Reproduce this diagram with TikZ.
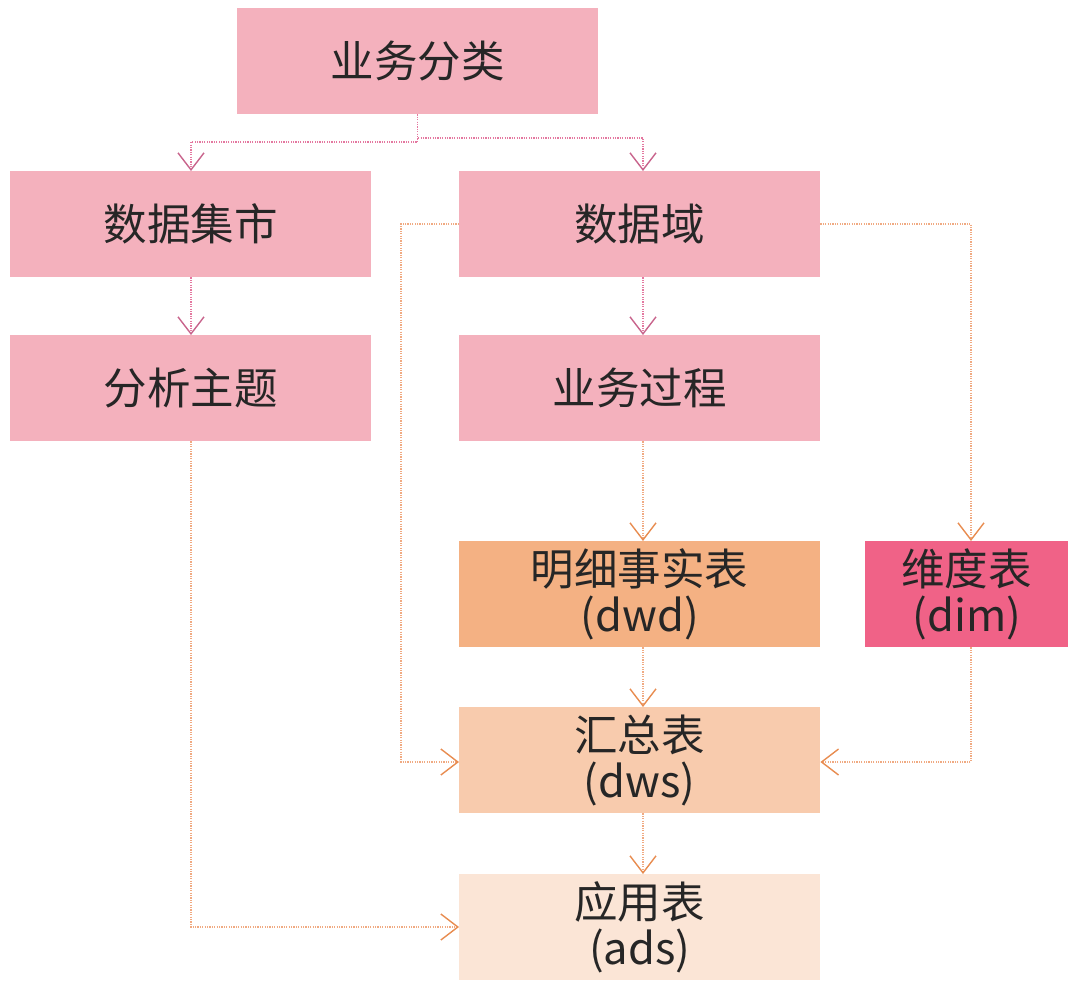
\documentclass[tikz,border=0pt]{standalone}
\usepackage{fontspec}
\setmainfont{Noto Sans CJK SC}
\usetikzlibrary{arrows.meta}
\definecolor{pinkbox}{RGB}{244,177,189}
\definecolor{dwdbox}{RGB}{244,177,131}
\definecolor{dimbox}{RGB}{240,98,135}
\definecolor{dwsbox}{RGB}{248,203,173}
\definecolor{adsbox}{RGB}{251,229,214}
\definecolor{pinkline}{RGB}{228,120,160}
\definecolor{pinktip}{RGB}{200,100,140}
\definecolor{orline}{RGB}{240,170,130}
\definecolor{ortip}{RGB}{232,140,80}
\definecolor{txt}{RGB}{38,38,38}
\begin{document}
\begin{tikzpicture}[x=1pt,y=-1pt,
  box/.style={minimum width=361pt,minimum height=106pt,inner sep=0pt,anchor=north west,
    font=\fontsize{43.5}{50}\selectfont,text=txt,align=center},
  pinkconn/.style={pinkline,line width=1.5pt,dash pattern=on 1.2pt off 1.2pt,
    -{Straight Barb[length=17pt,width=26pt,line width=1.4pt,color=pinktip]}},
  orconn/.style={orline,line width=1.5pt,dash pattern=on 1.2pt off 1.2pt,
    -{Straight Barb[length=17pt,width=26pt,line width=1.4pt,color=ortip]}}]
\useasboundingbox (0,0) rectangle (1068,983);
\node[box,fill=pinkbox] (cls) at (237,8) {业务分类};
\node[box,fill=pinkbox] (mart) at (10,171) {数据集市};
\node[box,fill=pinkbox] (dom) at (459,171) {数据域};
\node[box,fill=pinkbox] (topic) at (10,335) {分析主题};
\node[box,fill=pinkbox] (proc) at (459,335) {业务过程};
\node[box,fill=dwdbox] (dwd) at (459,541) {明细事实表\\[-4pt](dwd)};
\node[box,fill=dimbox,minimum width=203pt] (dim) at (865,541) {维度表\\[-4pt](dim)};
\node[box,fill=dwsbox] (dws) at (459,707) {汇总表\\[-4pt](dws)};
\node[box,fill=adsbox] (ads) at (459,874) {应用表\\[-4pt](ads)};
% connectors
\draw[pinkconn] (cls.south) |- (191,142) -- (mart.north -| 191,0);
\draw[pinkconn] (cls.south) |- (643,138) -- (dom.north -| 643,0);
\draw[pinkconn] (mart.south -| 191,0) -- (topic.north -| 191,0);
\draw[pinkconn] (dom.south -| 643,0) -- (proc.north -| 643,0);
\draw[orconn] (proc.south -| 643,0) -- (dwd.north -| 643,0);
\draw[orconn] (dwd.south -| 643,0) -- (dws.north -| 643,0);
\draw[orconn] (dws.south -| 643,0) -- (ads.north -| 643,0);
\draw[orconn] (dom.west |- 0,224) -| (401,762) -- (dws.west |- 0,762);
\draw[orconn] (dom.east |- 0,224) -| (dim.north -| 971,0);
\draw[orconn] (dim.south -| 971,0) |- (dws.east |- 0,762);
\draw[orconn] (topic.south -| 191,0) |- (ads.west |- 0,927);
\end{tikzpicture}
\end{document}
